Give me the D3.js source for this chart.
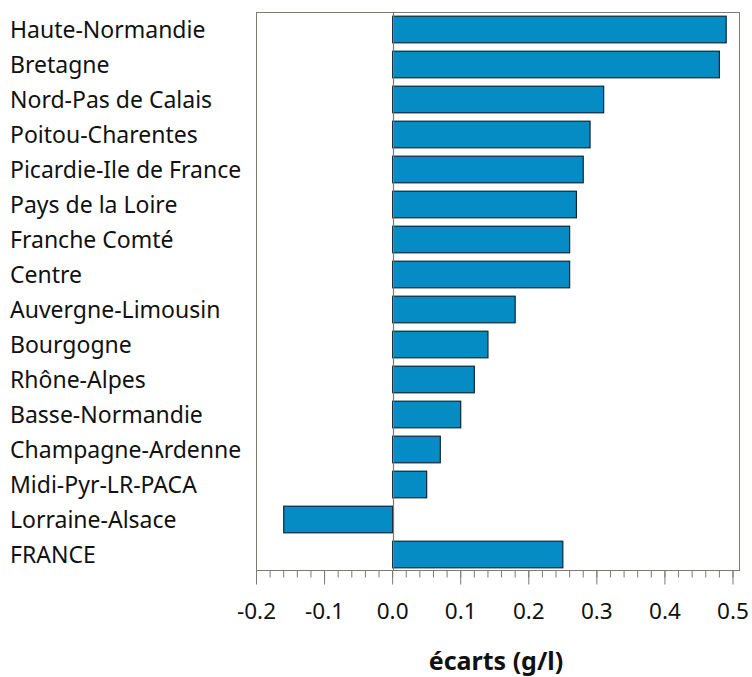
<!DOCTYPE html>
<html>
<head>
<meta charset="utf-8">
<script src="https://cdn.jsdelivr.net/npm/d3@7"></script>
<style>
  body { margin: 0; background: #fff; }
  svg { display: block; }
</style>
</head>
<body>
<svg id="chart" width="752" height="677"></svg>
<script>
const regions = ['Haute-Normandie', 'Bretagne', 'Nord-Pas de Calais', 'Poitou-Charentes',
    'Picardie-Ile de France', 'Pays de la Loire', 'Franche Comté', 'Centre',
    'Auvergne-Limousin', 'Bourgogne', 'Rhône-Alpes', 'Basse-Normandie',
    'Champagne-Ardenne', 'Midi-Pyr-LR-PACA', 'Lorraine-Alsace', 'FRANCE'];
const ecarts = [0.49, 0.48, 0.31, 0.29, 0.28, 0.27, 0.26, 0.26,
    0.18, 0.14, 0.12, 0.10, 0.07, 0.05, -0.16, 0.25];
const majorTicks = [-0.2, -0.1, 0.0, 0.1, 0.2, 0.3, 0.4, 0.5];
const minorTicks = d3.range(-20, 51, 2).map(d => d / 100);

const svg = d3.select('#chart');
const font = '"Noto Sans", "Open Sans", sans-serif';
const frame = {left: 256.5, right: 739.5, top: 12.5, bottom: 570.5};

let x = d3.scaleLinear().domain([-0.2, 0.5]).range([256.5, 733]);
let y = d3.scaleBand().domain(regions).range([12, 572])
    .paddingInner(0.24).paddingOuter(0.12);

// frame
svg.append('rect')
    .attr('x', frame.left).attr('y', frame.top)
    .attr('width', frame.right - frame.left)
    .attr('height', frame.bottom - frame.top)
    .attr('fill', 'none').attr('stroke', '#7d7a72').attr('stroke-width', 1);

// bars
let data = regions.map((r, i) => ({region: r, value: ecarts[i]}));
svg.append('g').selectAll('rect').data(data).enter().append('rect')
    .attr('x', d => x(Math.min(0, d.value)))
    .attr('y', d => y(d.region))
    .attr('width', d => Math.abs(x(d.value) - x(0)))
    .attr('height', y.bandwidth())
    .attr('fill', '#068cc5')
    .attr('stroke', '#0d2733')
    .attr('stroke-width', 1.2);

// zero line
svg.append('line')
    .attr('x1', Math.round(x(0)) + 0.5).attr('x2', Math.round(x(0)) + 0.5)
    .attr('y1', frame.top).attr('y2', frame.bottom)
    .attr('stroke', '#7d7a72').attr('stroke-width', 1.2);

// category labels
svg.append('g').selectAll('text').data(regions).enter().append('text')
    .attr('x', 10)
    .attr('y', d => y(d) + y.bandwidth() / 2)
    .attr('dy', '0.36em')
    .attr('font-family', font)
    .attr('font-size', 23)
    .attr('fill', '#111')
    .text(d => d);

// x axis: major + minor ticks
let axis = svg.append('g').attr('transform', 'translate(0,' + frame.bottom + ')');
axis.selectAll('line.minor').data(minorTicks).enter().append('line')
    .attr('class', 'minor')
    .attr('x1', d => x(d)).attr('x2', d => x(d))
    .attr('y1', 0).attr('y2', 7)
    .attr('stroke', '#7d7a72').attr('stroke-width', 1);
axis.selectAll('line.major').data(majorTicks).enter().append('line')
    .attr('class', 'major')
    .attr('x1', d => x(d)).attr('x2', d => x(d))
    .attr('y1', 0).attr('y2', 14)
    .attr('stroke', '#7d7a72').attr('stroke-width', 1);
axis.selectAll('text').data(majorTicks).enter().append('text')
    .attr('x', d => x(d))
    .attr('y', 48)
    .attr('text-anchor', 'middle')
    .attr('font-family', font)
    .attr('font-size', 22.5)
    .attr('fill', '#111')
    .text(d => d3.format('.1f')(d).replace('−', '-'));

// axis title
svg.append('text')
    .attr('x', 496).attr('y', 670)
    .attr('text-anchor', 'middle')
    .attr('font-family', font)
    .attr('font-size', 25)
    .attr('font-weight', 'bold')
    .attr('fill', '#111')
    .text('écarts (g/l)');
</script>
</body>
</html>
